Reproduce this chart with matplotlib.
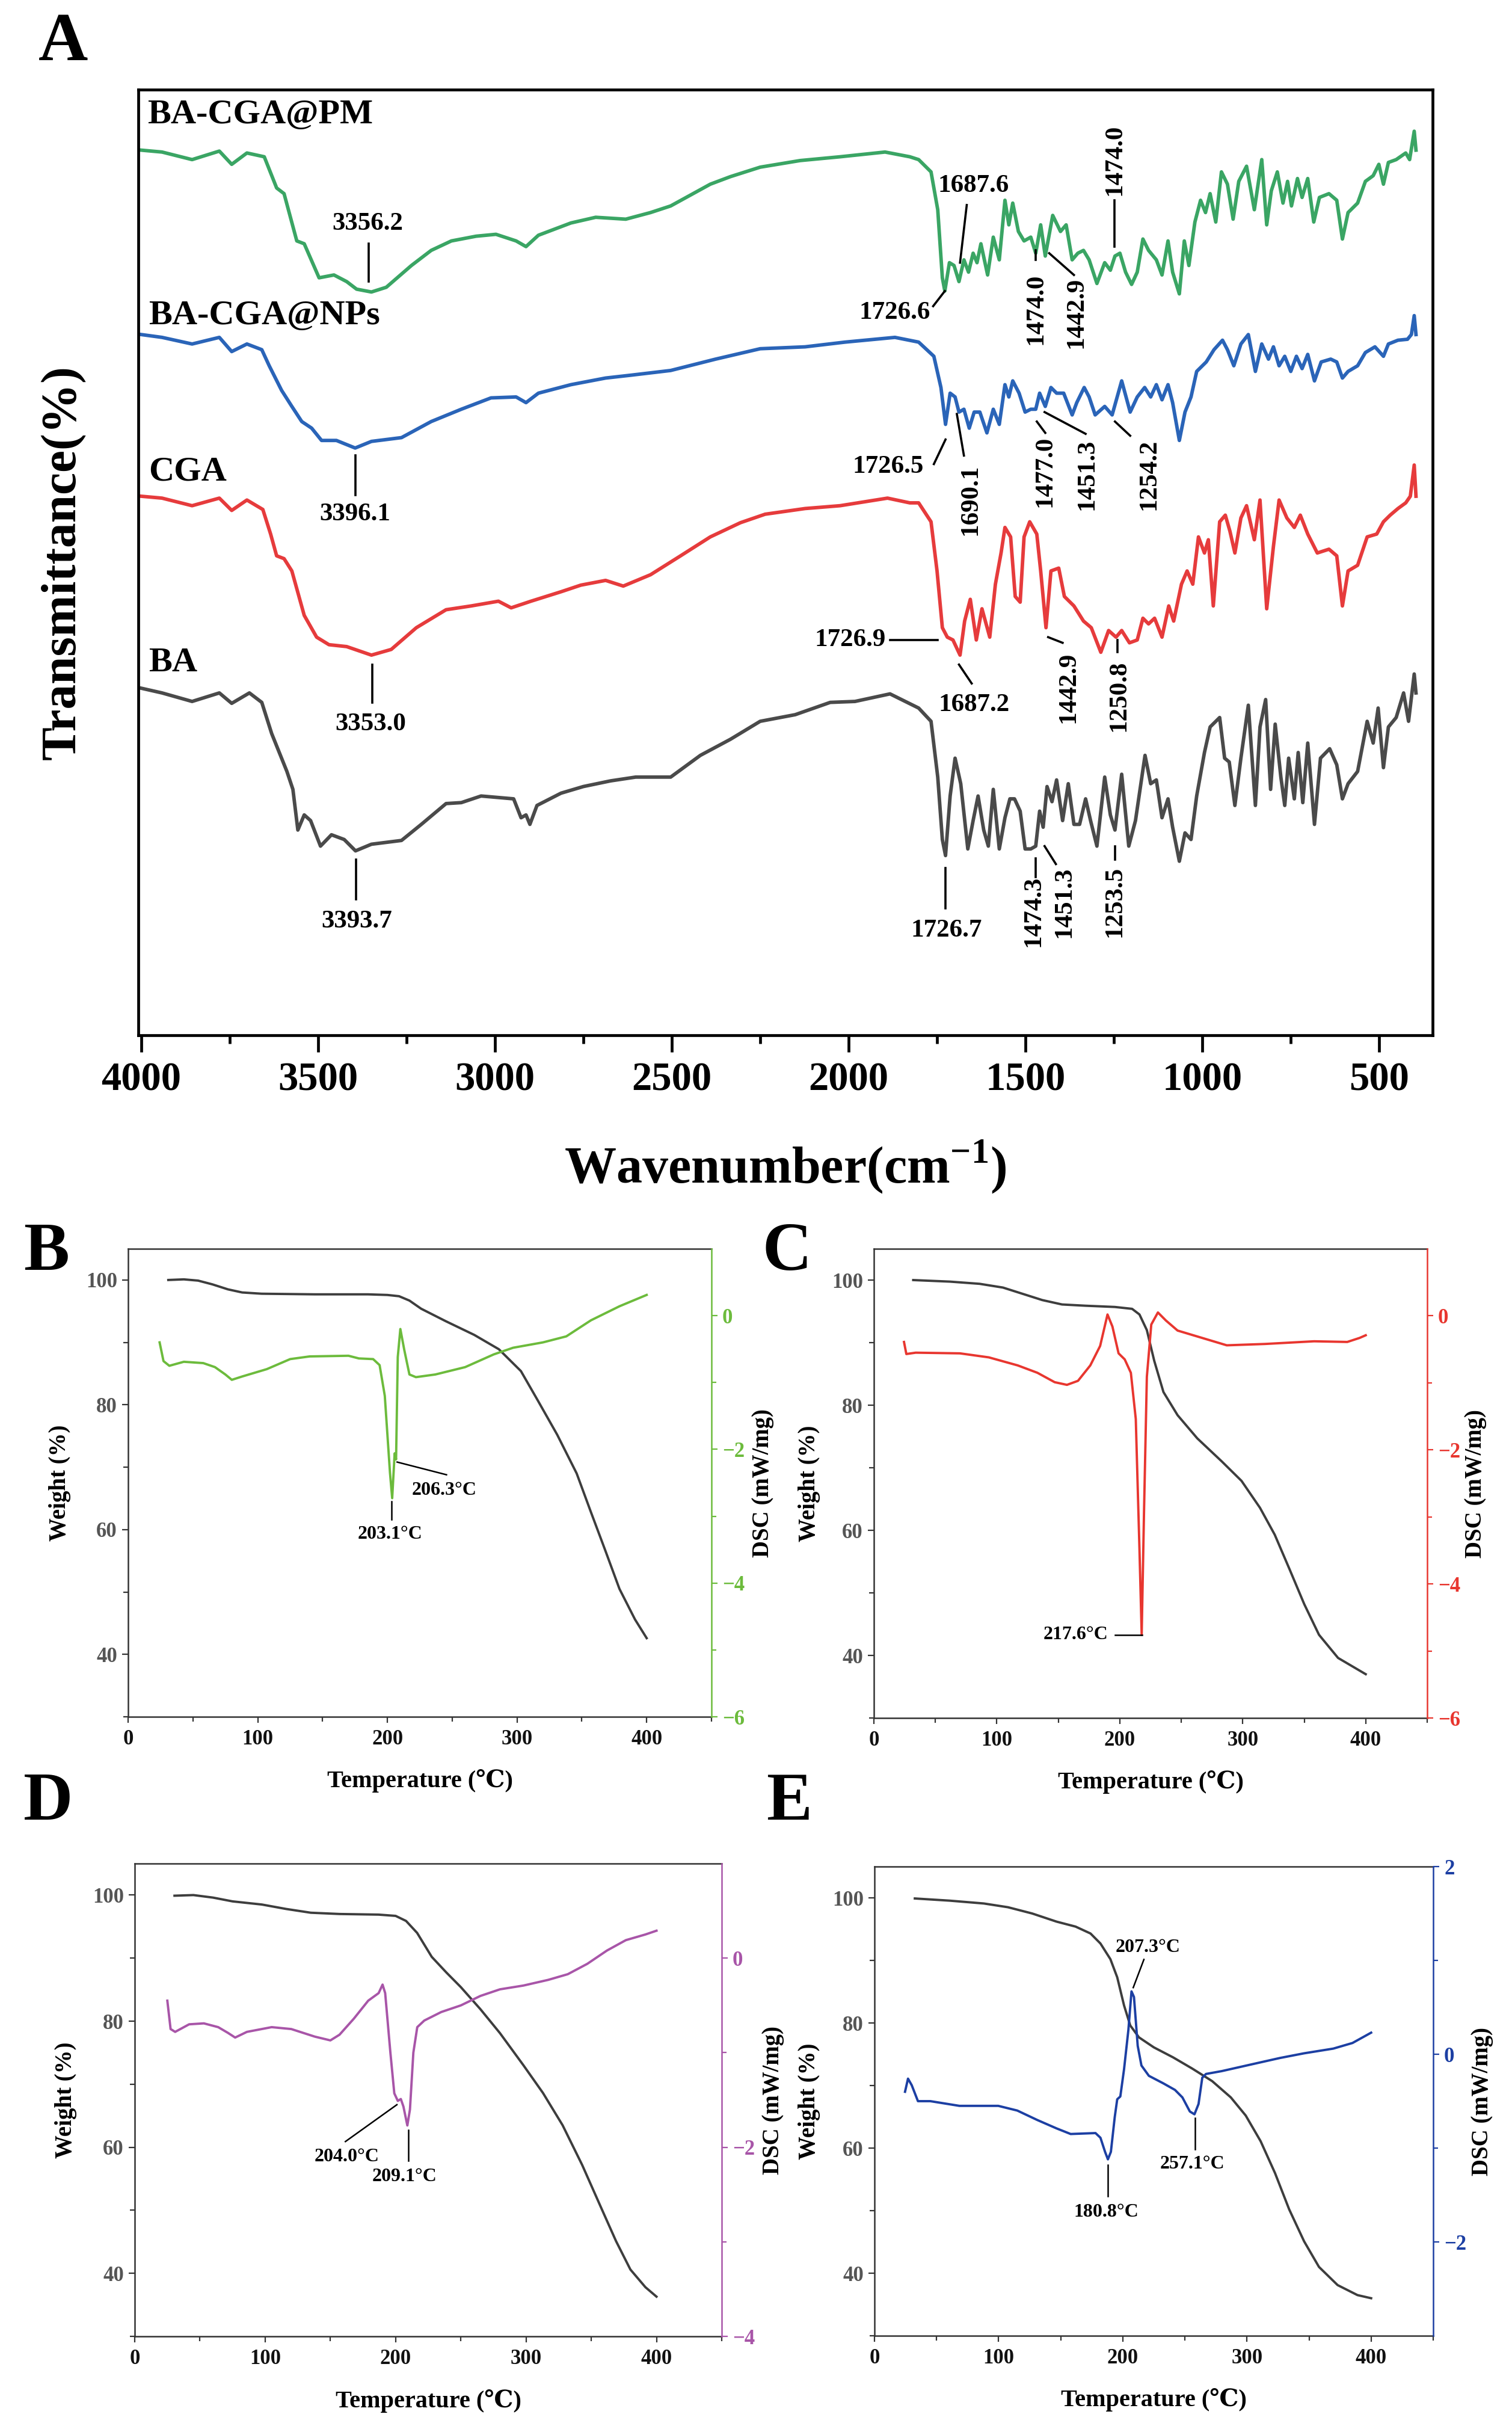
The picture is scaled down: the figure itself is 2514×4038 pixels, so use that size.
import matplotlib
matplotlib.use("Agg")
import matplotlib.pyplot as plt
from matplotlib.ticker import FixedLocator

plt.rcParams['font.family'] = ['Liberation Serif', 'DejaVu Serif']
plt.rcParams['mathtext.fontset'] = 'custom'
plt.rcParams['mathtext.rm'] = 'Liberation Serif'
plt.rcParams['mathtext.bf'] = 'Liberation Serif:bold'

# ---------------- FTIR data (wavenumber, relative transmittance) ----------------
pm_wn = [4000, 3941, 3856, 3779, 3744, 3701, 3652, 3617, 3596, 3560, 3539, 3497, 3455, 3419, 3391, 3349, 3307,
         3236, 3180, 3123, 3053, 2997, 2940, 2912, 2877, 2785, 2715, 2630, 2560, 2503, 2391, 2334, 2250, 2137,
         2024, 1897, 1827, 1802, 1767, 1748, 1735, 1728, 1715, 1702, 1688, 1674, 1661, 1648, 1637, 1626, 1607,
         1591, 1574, 1558, 1547, 1536, 1520, 1504, 1485, 1471, 1457, 1444, 1423, 1401, 1385, 1368, 1352, 1336,
         1320, 1298, 1276, 1260, 1247, 1233, 1217, 1200, 1184, 1168, 1152, 1130, 1114, 1097, 1084, 1065, 1051,
         1038, 1021, 1005, 991, 978, 962, 946, 929, 913, 897, 875, 853, 832, 818, 805, 788, 772, 759, 748, 731,
         718, 702, 685, 669, 642, 620, 604, 588, 561, 539, 517, 501, 488, 474, 452, 425, 414, 401, 396]
pm_t = [93.6, 93.4, 92.6, 93.5, 92.1, 93.3, 92.9, 89.6, 89.0, 84.0, 83.7, 80.1, 80.4, 79.7, 78.9, 78.6, 79.1,
        81.4, 83.0, 84.0, 84.5, 84.7, 84.0, 83.4, 84.6, 85.9, 86.5, 86.3, 87.0, 87.7, 90.0, 90.8, 91.8, 92.5,
        92.9, 93.4, 92.9, 92.6, 91.3, 87.3, 80.1, 78.7, 81.7, 81.4, 79.7, 82.0, 80.7, 82.7, 81.7, 83.7, 80.4,
        84.4, 82.0, 88.3, 85.7, 88.0, 85.0, 84.0, 84.4, 82.7, 85.7, 82.4, 86.7, 85.0, 85.7, 82.0, 82.7, 83.0,
        82.0, 79.5, 81.7, 80.9, 82.4, 82.7, 80.7, 79.4, 80.7, 84.2, 83.0, 82.0, 80.4, 84.0, 80.7, 78.4, 84.0,
        81.4, 86.0, 88.3, 87.0, 89.0, 86.0, 91.3, 90.0, 86.3, 90.3, 91.9, 87.3, 92.6, 85.7, 89.3, 91.3, 88.0,
        90.3, 87.7, 90.6, 88.6, 90.6, 86.0, 88.6, 89.0, 88.3, 84.2, 87.0, 88.0, 90.3, 90.9, 92.1, 90.0, 92.3,
        92.6, 93.3, 92.6, 95.6, 93.6]

np_wn = [4000, 3941, 3856, 3779, 3744, 3701, 3659, 3638, 3603, 3574, 3546, 3518, 3490, 3448, 3395, 3349, 3264,
         3180, 3095, 3011, 2940, 2912, 2877, 2785, 2687, 2616, 2503, 2376, 2250, 2123, 2010, 1869, 1802, 1759,
         1739, 1726, 1713, 1699, 1688, 1674, 1659, 1645, 1629, 1609, 1591, 1574, 1558, 1547, 1536, 1518, 1501,
         1485, 1471, 1460, 1444, 1428, 1412, 1392, 1368, 1355, 1334, 1320, 1303, 1276, 1255, 1228, 1204, 1184,
         1163, 1146, 1130, 1114, 1097, 1084, 1065, 1049, 1032, 1016, 989, 967, 943, 929, 911, 891, 870, 850, 832,
         813, 799, 783, 767, 750, 734, 718, 702, 683, 664, 637, 620, 604, 588, 561, 539, 512, 488, 474, 447, 420,
         409, 401, 396]
np_t = [74.1, 73.8, 73.1, 73.8, 72.3, 73.1, 72.5, 70.8, 68.2, 66.5, 64.9, 64.2, 62.9, 62.9, 62.1, 62.8, 63.2,
        64.9, 66.2, 67.4, 67.5, 66.9, 67.9, 68.8, 69.5, 69.8, 70.3, 71.5, 72.6, 72.8, 73.3, 73.8, 73.3, 71.8,
        68.5, 64.6, 67.9, 67.5, 65.9, 66.2, 64.2, 65.9, 65.9, 63.7, 66.2, 64.6, 68.8, 67.5, 69.2, 67.9, 65.9,
        66.2, 66.2, 67.9, 66.5, 68.5, 67.9, 67.9, 65.6, 66.9, 68.5, 67.5, 65.6, 66.5, 65.6, 69.2, 65.9, 67.5,
        68.5, 67.5, 68.8, 67.2, 68.8, 66.9, 62.9, 65.9, 67.5, 70.2, 71.2, 72.5, 73.5, 72.5, 70.8, 73.1, 74.1,
        70.2, 73.1, 71.5, 72.8, 70.8, 71.8, 70.2, 71.8, 70.5, 72.0, 69.2, 71.2, 71.5, 71.2, 69.5, 70.2, 70.8,
        72.2, 72.8, 71.8, 73.1, 73.5, 73.6, 74.1, 76.1, 74.1]

cga_wn = [4000, 3941, 3856, 3779, 3744, 3701, 3656, 3634, 3617, 3596, 3574, 3539, 3504, 3469, 3419, 3349, 3293,
          3222, 3138, 3067, 2990, 2954, 2898, 2813, 2757, 2687, 2637, 2560, 2475, 2391, 2306, 2236, 2123, 2024,
          1890, 1827, 1802, 1767, 1750, 1735, 1721, 1705, 1685, 1672, 1656, 1639, 1623, 1601, 1585, 1569, 1558,
          1542, 1529, 1515, 1504, 1488, 1468, 1457, 1442, 1428, 1406, 1390, 1363, 1336, 1314, 1287, 1265, 1244,
          1228, 1206, 1184, 1168, 1152, 1135, 1114, 1095, 1081, 1059, 1043, 1027, 1011, 994, 983, 969, 951, 935,
          922, 908, 891, 875, 853, 837, 818, 799, 783, 761, 740, 723, 702, 675, 642, 620, 604, 588, 561, 534,
          507, 488, 469, 447, 425, 412, 401, 396]
cga_t = [57.0, 56.8, 56.0, 56.8, 55.5, 56.6, 55.6, 53.0, 50.7, 50.4, 49.1, 44.4, 42.1, 41.3, 41.1, 40.2, 40.8,
         43.1, 45.0, 45.4, 45.9, 45.2, 45.9, 46.9, 47.6, 48.1, 47.5, 48.7, 50.7, 52.7, 54.2, 55.1, 55.7, 56.0,
         56.8, 56.3, 56.3, 54.3, 49.1, 43.1, 42.1, 41.8, 40.2, 43.8, 46.1, 41.8, 45.1, 42.1, 47.7, 51.0, 53.7,
         52.7, 46.4, 45.8, 52.7, 54.3, 53.0, 49.1, 43.1, 49.1, 49.4, 46.4, 45.4, 43.8, 43.1, 40.5, 42.8, 42.1,
         42.8, 41.5, 41.8, 44.1, 43.5, 44.1, 42.1, 45.4, 43.8, 47.7, 49.1, 47.7, 52.7, 51.0, 52.4, 45.4, 54.3,
         55.0, 53.3, 51.0, 54.7, 56.0, 52.4, 56.6, 45.1, 51.7, 56.6, 54.7, 53.7, 55.0, 53.0, 51.0, 51.4, 50.7,
         45.4, 49.1, 49.7, 52.7, 53.0, 54.3, 55.0, 55.7, 56.3, 57.0, 60.3, 57.0]

ba_wn = [4000, 3941, 3856, 3779, 3744, 3694, 3659, 3631, 3588, 3571, 3557, 3539, 3521, 3493, 3462, 3426, 3394,
         3349, 3264, 3208, 3138, 3095, 3039, 2947, 2926, 2912, 2901, 2881, 2813, 2750, 2673, 2602, 2503, 2419,
         2334, 2250, 2151, 2052, 1982, 1883, 1802, 1767, 1748, 1735, 1726, 1713, 1699, 1683, 1663, 1648, 1634,
         1618, 1605, 1591, 1574, 1558, 1544, 1531, 1515, 1501, 1485, 1471, 1460, 1450, 1439, 1425, 1412, 1395,
         1379, 1363, 1347, 1330, 1316, 1298, 1276, 1260, 1247, 1228, 1208, 1189, 1162, 1146, 1130, 1114, 1097,
         1084, 1065, 1049, 1032, 1016, 994, 978, 951, 937, 924, 908, 891, 870, 850, 837, 821, 807, 794, 778,
         767, 756, 740, 729, 716, 702, 683, 666, 640, 620, 604, 588, 561, 534, 517, 503, 488, 474, 452, 431,
         417, 401, 396]
ba_t = [36.7, 36.2, 35.3, 36.2, 35.1, 36.2, 35.2, 31.9, 27.9, 26.0, 21.7, 23.3, 22.7, 20.0, 21.2, 20.7, 19.5,
        20.2, 20.6, 22.3, 24.5, 24.6, 25.3, 25.0, 23.0, 23.3, 22.3, 24.3, 25.6, 26.3, 26.9, 27.3, 27.3, 29.6,
        31.3, 33.2, 33.9, 35.2, 35.3, 36.1, 34.6, 33.2, 27.3, 20.7, 19.0, 25.3, 29.3, 26.6, 19.7, 22.7, 25.3,
        21.7, 20.0, 26.0, 19.7, 23.0, 25.0, 25.0, 23.7, 19.7, 19.7, 20.0, 23.7, 22.0, 26.3, 24.7, 27.0, 22.7,
        26.6, 22.3, 22.3, 25.0, 22.7, 20.0, 27.3, 23.3, 21.7, 27.6, 20.0, 22.7, 29.6, 26.6, 27.0, 23.0, 25.0,
        22.0, 18.4, 21.4, 20.7, 25.3, 29.9, 32.6, 33.6, 29.3, 28.9, 24.3, 29.3, 34.9, 24.3, 32.6, 35.5, 26.0,
        32.9, 27.3, 24.3, 29.3, 25.0, 29.9, 24.6, 30.9, 22.3, 29.3, 30.3, 28.6, 25.0, 26.6, 27.9, 33.2, 30.9,
        34.6, 28.3, 32.6, 33.6, 36.2, 33.2, 38.2, 36.2]

ftir_names = ['BA-CGA@PM', 'BA-CGA@NPs', 'CGA', 'BA']
ftir_colors = ['#3aa564', '#2a64b8', '#e63b3c', '#4a4a4a']
ftir_wn = [pm_wn, np_wn, cga_wn, ba_wn]
ftir_t = [pm_t, np_t, cga_t, ba_t]
ftir_xticks = [4000, 3500, 3000, 2500, 2000, 1500, 1000, 500]

# ---------------- TGA / DSC data ----------------
b_tga_T = [31, 43, 54, 65, 77, 88, 103, 144, 185, 200, 209, 217, 226, 245, 267, 286, 303, 316, 331, 346, 357, 368, 379, 391, 400]
b_tga_W = [100, 100.1, 99.9, 99.3, 98.5, 98.0, 97.8, 97.7, 97.7, 97.6, 97.4, 96.7, 95.4, 93.4, 91.2, 88.9, 85.4, 80.7, 75.2, 69.0, 62.8, 56.7, 50.5, 45.6, 42.6]
b_dsc_T = [24.3, 27.3, 31.8, 43, 58, 67, 75, 80, 88, 107, 125, 140, 170, 178, 189, 194, 198, 202, 203.7, 205.6, 206.7,
           208, 210, 213, 217, 222, 237, 260, 282, 297, 320, 338, 357, 379, 400]
b_dsc_D = [-0.40, -0.68, -0.75, -0.69, -0.71, -0.77, -0.88, -0.96, -0.91, -0.80, -0.65, -0.61, -0.60, -0.64, -0.65, -0.74,
           -1.20, -2.35, -2.73, -2.06, -2.15, -0.62, -0.20, -0.51, -0.88, -0.92, -0.88, -0.77, -0.58, -0.48, -0.40, -0.31,
           -0.07, 0.14, 0.31]

c_tga_T = [32, 62, 86, 105, 121, 137, 153, 172, 196, 210, 216, 222, 228, 235.5, 247, 263, 283, 299, 314, 326, 338, 350, 362, 377.5, 400]
c_tga_W = [100, 99.75, 99.4, 98.8, 97.8, 96.8, 96.1, 95.9, 95.7, 95.4, 94.5, 92.0, 87.1, 82.1, 78.4, 74.7, 71.0, 67.9, 63.6, 59.3, 53.8, 48.2, 43.3, 39.6, 37.0]
c_dsc_T = [24.5, 26.4, 34, 70, 93.5, 117, 133, 147, 157, 166, 176, 184, 190, 194, 199, 204, 209, 213, 216, 217.8, 219.7,
           222, 225.6, 231, 237.5, 247, 267, 287, 318, 358, 385, 395, 400]
c_dsc_D = [-0.39, -0.57, -0.55, -0.56, -0.62, -0.74, -0.85, -0.99, -1.03, -0.97, -0.74, -0.45, 0.02, -0.16, -0.56, -0.65,
           -0.85, -1.54, -3.49, -4.76, -2.92, -0.91, -0.13, 0.05, -0.07, -0.22, -0.33, -0.44, -0.42, -0.38, -0.39, -0.33, -0.29]

d_tga_T = [30.5, 45, 60, 75, 97.5, 116, 135, 157, 187, 200, 208, 216.5, 227.7, 239, 250, 265, 280, 298, 313, 328, 343, 358, 369, 380, 391.5, 400]
d_tga_W = [99.9, 100, 99.6, 99.0, 98.5, 97.8, 97.2, 97.0, 96.9, 96.7, 95.9, 94.0, 90.2, 87.7, 85.4, 81.9, 78.1, 73.0, 68.6, 63.5, 57.2, 50.2, 45.1, 40.6, 37.8, 36.3]
d_dsc_T = [25, 27.5, 31, 41.7, 53, 64, 71.4, 77, 86, 105, 120, 138, 150, 157, 168, 179, 187, 190, 192, 196, 199, 201.7,
           204, 206, 209, 211, 213.6, 216.6, 222, 235, 250, 265, 280, 298, 317, 332, 347, 362, 376.5, 391.5, 400]
d_dsc_D = [-0.45, -0.75, -0.78, -0.70, -0.69, -0.73, -0.79, -0.84, -0.78, -0.73, -0.75, -0.83, -0.87, -0.81, -0.64, -0.45,
           -0.37, -0.28, -0.37, -1.00, -1.43, -1.51, -1.49, -1.57, -1.77, -1.60, -1.00, -0.73, -0.66, -0.57, -0.50, -0.40,
           -0.33, -0.29, -0.23, -0.17, -0.06, 0.08, 0.19, 0.25, 0.29]

e_tga_T = [32.5, 60.6, 88, 107.5, 127, 146.6, 162, 174, 182, 190, 195.5, 201, 206, 213, 225, 240.5, 256, 272, 287, 299, 311, 322.6, 334, 346, 358, 373, 389, 400]
e_tga_W = [99.9, 99.55, 99.1, 98.5, 97.5, 96.2, 95.4, 94.3, 92.7, 90.2, 87.3, 82.8, 79.6, 77.7, 76.1, 74.5, 72.7, 70.7, 68.1, 65.2, 61.1, 56.0, 50.2, 45.1, 41.0, 38.1, 36.5, 36.0]
e_dsc_T = [24.6, 27, 30, 35, 45, 68.4, 99.7, 115, 131, 146.6, 158, 178, 182, 185.7, 188, 190.4, 193.5, 195.5, 198, 201,
           204.5, 207, 209, 212, 215, 221, 232.6, 242, 248, 254, 257.7, 261, 264, 267, 279.6, 303, 326.5, 346, 369.5, 385, 400]
e_dsc_D = [-0.40, -0.26, -0.33, -0.50, -0.50, -0.55, -0.55, -0.60, -0.70, -0.79, -0.85, -0.84, -0.89, -1.04, -1.12, -1.04,
           -0.67, -0.48, -0.45, -0.16, 0.26, 0.67, 0.61, 0.09, -0.12, -0.23, -0.31, -0.38, -0.46, -0.61, -0.64, -0.53,
           -0.25, -0.21, -0.18, -0.11, -0.04, 0.01, 0.06, 0.12, 0.23]

tga_xticks = [0, 100, 200, 300, 400]
tga_yticks = [40, 60, 80, 100]

W, H = 2514, 4038
fig = plt.figure(figsize=(W / 100, H / 100), dpi=100)


def frac(l, t, r, b):
    return [l / W, 1 - b / H, (r - l) / W, (b - t) / H]


# ======================= Panel A =======================
axA = fig.add_axes(frac(230, 149, 2382, 1721))
for wn, t, c in zip(ftir_wn, ftir_t, ftir_colors):
    axA.plot(wn, t, color=c, lw=4.2, solid_joinstyle='round')
axA.set_xlim(4008, 349)
axA.set_ylim(0, 100)
axA.set_yticks([])
axA.xaxis.set_major_locator(FixedLocator(ftir_xticks))
axA.xaxis.set_minor_locator(FixedLocator([3750, 3250, 2750, 2250, 1750, 1250, 750]))
axA.tick_params(axis='x', which='major', direction='out', length=20, width=3.4, labelsize=48, pad=12)
axA.tick_params(axis='x', which='minor', direction='out', length=10, width=3.4)
for lb in axA.get_xticklabels():
    lb.set_fontweight('bold')
for s in axA.spines.values():
    s.set_linewidth(3.4)
axA.set_xlabel(r'Wavenumber(cm$^{\mathbf{-1}}$)', fontsize=62, fontweight='bold')
axA.set_ylabel('Transmittance(%)', fontsize=60, fontweight='bold')
axA.xaxis.set_label_coords(0.5, -0.139)
axA.xaxis.label.set_va('center')
axA.yaxis.set_label_coords(-0.058, 0.5)
axA.yaxis.label.set_va('center')

name_pos = [(3983, 97.3), (3979, 76.1), (3979, 59.6), (3979, 39.4)]
for n, (x, y) in zip(ftir_names, name_pos):
    axA.text(x, y, n, fontsize=42, fontweight='bold', ha='left', va='center')

# (label, text x, text y, rotation, line x0, y0, x1, y1)
ftir_ann = [
    ('3356.2', 3360, 85.8, 0, 3356, 83.7, 3356, 79.7),
    ('1687.6', 1647, 89.8, 0, 1666, 87.8, 1685, 81.7),
    ('1726.6', 1869, 76.4, 0, 1761, 77.1, 1728, 78.7),
    ('1474.0', 1471, 76.8, 90, 1471, 83.0, 1471, 82.0),
    ('1442.9', 1357, 76.4, 90, 1433, 82.7, 1363, 80.4),
    ('1474.0', 1247, 92.6, 90, 1249, 88.3, 1249, 83.4),
    ('3396.1', 3395, 55.1, 0, 3395, 61.3, 3395, 57.1),
    ('1726.5', 1889, 60.1, 0, 1759, 60.4, 1726, 63.0),
    ('1690.1', 1656, 56.6, 90, 1694, 65.7, 1674, 61.3),
    ('1477.0', 1444, 59.6, 90, 1468, 64.9, 1444, 63.7),
    ('1451.3', 1325, 59.3, 90, 1446, 65.9, 1330, 63.6),
    ('1254.2', 1151, 59.3, 90, 1247, 64.9, 1204, 63.4),
    ('3353.0', 3352, 32.9, 0, 3346, 39.2, 3346, 35.2),
    ('1687.2', 1645, 34.9, 0, 1688, 39.2, 1652, 37.2),
    ('1442.9', 1379, 36.8, 90, 1436, 42.1, 1395, 41.5),
    ('1250.8', 1236, 35.9, 90, 1240, 41.8, 1240, 40.5),
    ('3393.7', 3391, 12.0, 0, 3392, 18.6, 3392, 14.4),
    ('1726.7', 1724, 11.1, 0, 1726, 17.7, 1726, 13.4),
    ('1474.3', 1477, 13.1, 90, 1471, 18.7, 1471, 16.7),
    ('1451.3', 1390, 14.1, 90, 1446, 20.0, 1414, 18.1),
    ('1253.5', 1247, 14.1, 90, 1247, 20.0, 1247, 18.6),
]
for lab, tx, ty, rot, x0, y0, x1, y1 in ftir_ann:
    axA.text(tx, ty, lab, fontsize=31, fontweight='bold', rotation=rot, ha='center', va='center')
    axA.plot([x0, x1], [y0, y1], color='black', lw=2.6)
# CGA 1726.9 with horizontal leader
axA.text(1895, 41.8, '1726.9', fontsize=31, fontweight='bold', ha='right', va='center')
axA.plot([1883, 1748], [41.8, 41.8], color='black', lw=2.6)

fig.text(105 / W, 1 - 72 / H, 'A', fontsize=82, fontweight='bold', ha='center', va='center')


# ======================= TGA/DSC panels =======================
def tga_panel(box, T, Wt, dT, dD, color, dlim, dmajor, dminor, letter, letter_xy):
    ax = fig.add_axes(frac(*box))
    ax.plot(T, Wt, color='#3d3d3d', lw=2.8)
    ax.set_xlim(0, 450)
    ax.set_ylim(30, 105)
    ax.xaxis.set_major_locator(FixedLocator(tga_xticks))
    ax.xaxis.set_minor_locator(FixedLocator([50, 150, 250, 350, 450]))
    ax.yaxis.set_major_locator(FixedLocator(tga_yticks))
    ax.yaxis.set_minor_locator(FixedLocator([30, 50, 70, 90]))
    ax.tick_params(which='both', direction='out', width=1.6, colors='#333333')
    ax.tick_params(which='major', length=7)
    ax.tick_params(which='minor', length=6)
    ax.tick_params(axis='x', labelsize=25, labelcolor='#111111', pad=8)
    ax.tick_params(axis='y', labelsize=25, labelcolor='#555555', pad=6)
    for lb in ax.get_xticklabels() + ax.get_yticklabels():
        lb.set_fontweight('bold')
    for s in ['left', 'bottom', 'top']:
        ax.spines[s].set_linewidth(1.8)
        ax.spines[s].set_color('#333333')
    ax.spines['right'].set_visible(False)
    ax.set_xlabel('Temperature (℃)', fontsize=29, fontweight='bold')
    ax.set_ylabel('Weight (%)', fontsize=28, fontweight='bold')
    ax.xaxis.set_label_coords(0.5, -0.137)
    ax.xaxis.label.set_va('center')
    ax.yaxis.set_label_coords(-0.117, 0.5)
    ax.yaxis.label.set_va('center')

    ax2 = ax.twinx()
    ax2.plot(dT, dD, color=color, lw=2.8)
    ax2.set_ylim(*dlim)
    ax2.yaxis.set_major_locator(FixedLocator(dmajor))
    ax2.yaxis.set_minor_locator(FixedLocator(dminor))
    ax2.tick_params(which='both', direction='out', width=1.6, colors=color, labelsize=25, pad=6)
    ax2.tick_params(which='major', length=7)
    ax2.tick_params(which='minor', length=6)
    for lb in ax2.get_yticklabels():
        lb.set_fontweight('bold')
    for s in ['left', 'bottom', 'top']:
        ax2.spines[s].set_visible(False)
    ax2.spines['right'].set_color(color)
    ax2.spines['right'].set_linewidth(1.8)
    ax2.set_ylabel('DSC (mW/mg)', fontsize=28, fontweight='bold')
    ax2.yaxis.set_label_coords(1.088, 0.5)
    ax2.yaxis.label.set_va('center')
    fig.text(letter_xy[0] / W, 1 - letter_xy[1] / H, letter, fontsize=82, fontweight='bold',
             ha='center', va='center')
    return ax, ax2


axB, axB2 = tga_panel((213, 2076, 1183, 2854), b_tga_T, b_tga_W, b_dsc_T, b_dsc_D, '#6cbb3c',
                      (-6, 1), [0, -2, -4, -6], [-1, -3, -5], 'B', (77, 2083))
axC, axC2 = tga_panel((1453, 2076, 2373, 2856), c_tga_T, c_tga_W, c_dsc_T, c_dsc_D, '#e8362f',
                      (-6, 1), [0, -2, -4, -6], [-1, -3, -5], 'C', (1309, 2083))
axD, axD2 = tga_panel((224, 3098, 1200, 3884), d_tga_T, d_tga_W, d_dsc_T, d_dsc_D, '#a855a8',
                      (-4, 1), [0, -2, -4], [-1, -3], 'D', (80, 2997))
axE, axE2 = tga_panel((1454, 3103, 2383, 3883), e_tga_T, e_tga_W, e_dsc_T, e_dsc_D, '#1c3fa3',
                      (-3, 2), [2, 0, -2], [1, -1], 'E', (1312, 2997))

ann_fs = 23
# (axis, label, text T, text D, line T0, D0, T1, D1)
dsc_ann = [
    (axB2, '203.1°C', 202, -3.27, 203, -2.78, 203, -3.05),
    (axB2, '206.3°C', 244, -2.61, 207.5, -2.19, 245.6, -2.38),
    (axC2, '217.6°C', 164, -4.76, 196, -4.76, 218, -4.76),
    (axD2, '204.0°C', 162.6, -2.10, 161.5, -1.94, 201, -1.55),
    (axD2, '209.1°C', 207, -2.31, 210, -1.82, 210, -2.14),
    (axE2, '207.3°C', 220, 1.14, 208.4, 0.71, 217, 1.01),
    (axE2, '257.1°C', 256, -1.17, 258, -0.68, 258, -1.01),
    (axE2, '180.8°C', 186.5, -1.68, 188, -1.18, 188, -1.51),
]
for ax, lab, tx, ty, x0, y0, x1, y1 in dsc_ann:
    ax.text(tx, ty, lab, fontsize=ann_fs, fontweight='bold', ha='center', va='center')
    ax.plot([x0, x1], [y0, y1], color='black', lw=1.8)

fig.savefig('out.png', dpi=100)
